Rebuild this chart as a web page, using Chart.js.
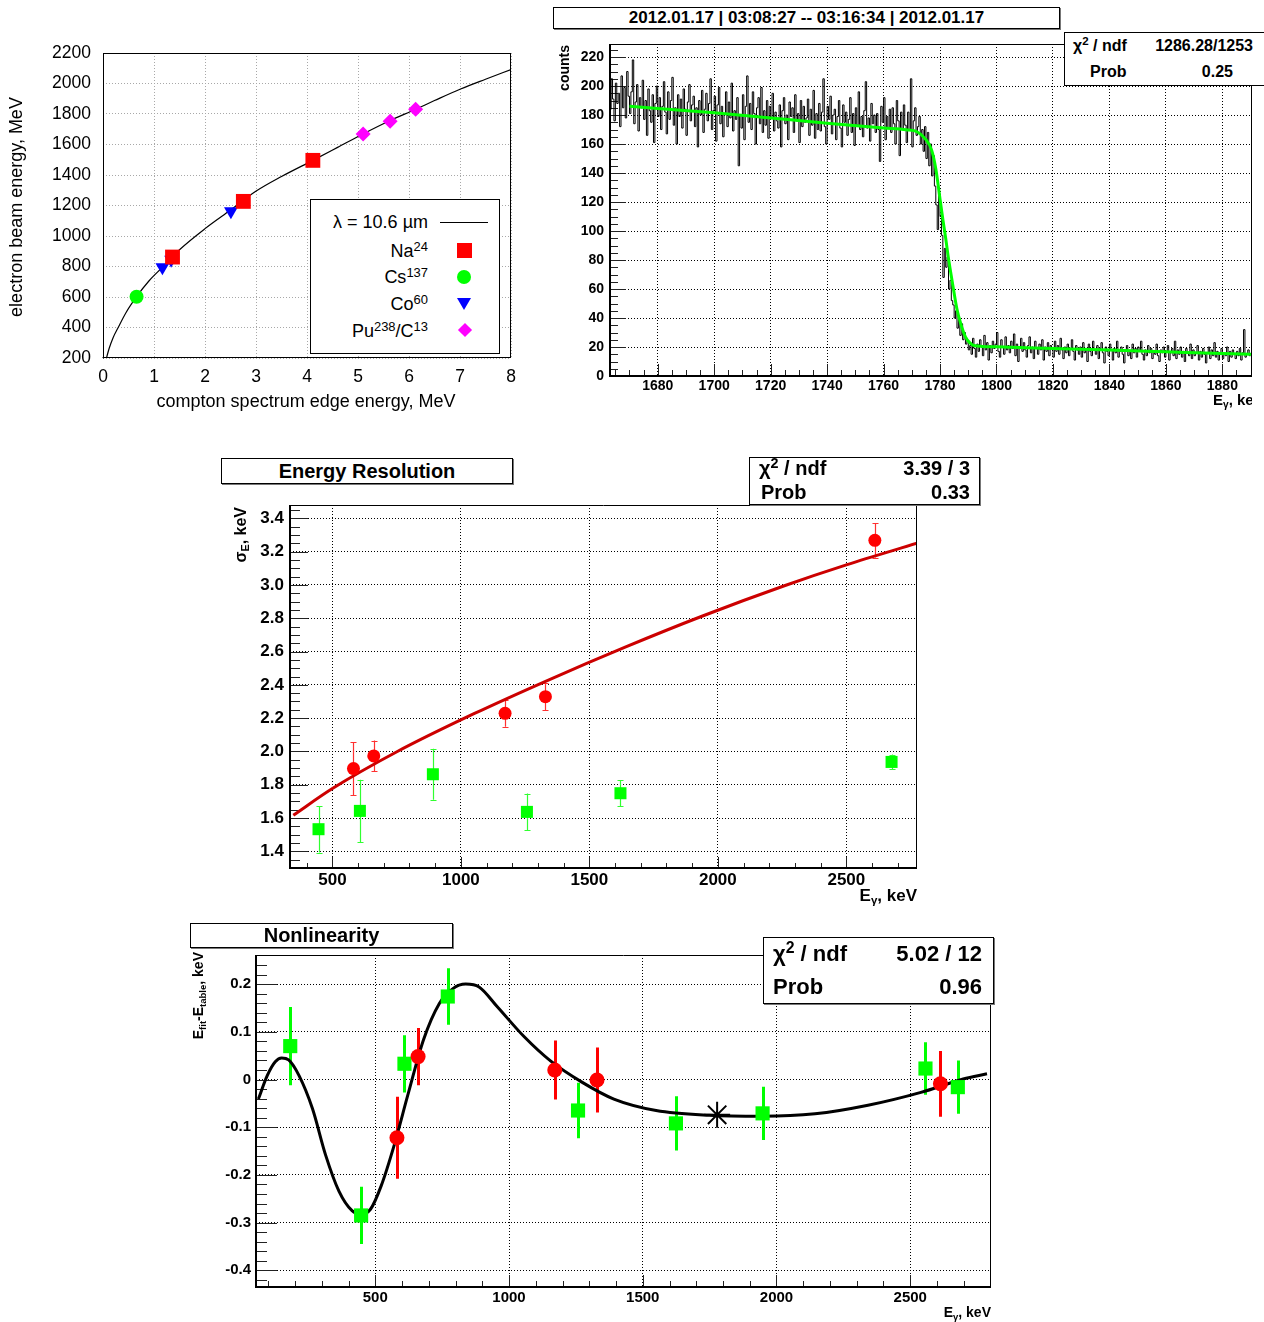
<!DOCTYPE html>
<html>
<head>
<meta charset="utf-8">
<script src="https://cdn.jsdelivr.net/npm/chart.js@4/dist/chart.umd.min.js"></script>
<style>
  html, body { margin: 0; padding: 0; }
  body { width: 1264px; height: 1322px; overflow: hidden; background: #fff; position: relative;
         font-family: "Liberation Sans", Arial, Helvetica, sans-serif; color: #000; }
  canvas { position: absolute; }
  .box { position: absolute; border: 1px solid #000; background: #fff; box-sizing: border-box; }
  .shadow { box-shadow: 1px 1px 0 #777; }
  .t { position: absolute; white-space: nowrap; line-height: 1.15; }
  .b { font-weight: bold; }
  .rot { transform-origin: 0 0; transform: rotate(-90deg); }
  .sup { font-size: 0.72em; position: relative; top: -0.5em; }
  .sub { font-size: 0.68em; position: relative; top: 0.3em; }
</style>
</head>
<body>

<!-- panel 1: compton edge vs beam energy -->
<canvas id="c1" width="530" height="390" style="left:0;top:40px"></canvas>
<div class="t rot" style="left:6px;top:357px;width:300px;text-align:center;font-size:18px">electron beam energy, MeV</div>
<div class="t" style="left:106px;top:391px;width:400px;text-align:center;font-size:18px">compton spectrum edge energy, MeV</div>
<div class="box" style="left:310px;top:199px;width:190px;height:155px"></div>
<div class="t" style="right:836px;top:212px;font-size:18px">λ = 10.6 µm</div>
<div style="position:absolute;left:440px;top:222px;width:48px;height:1px;background:#000"></div>
<div class="t" style="right:836px;top:241px;font-size:18px">Na<span class="sup">24</span></div>
<div style="position:absolute;left:457px;top:243px;width:15px;height:15px;background:#ff0000"></div>
<div class="t" style="right:836px;top:267px;font-size:18px">Cs<span class="sup">137</span></div>
<div style="position:absolute;left:457px;top:270px;width:14px;height:14px;border-radius:50%;background:#00ff00"></div>
<div class="t" style="right:836px;top:294px;font-size:18px">Co<span class="sup">60</span></div>
<div style="position:absolute;left:457px;top:298px;width:0;height:0;border-left:7px solid transparent;border-right:7px solid transparent;border-top:12px solid #0000ff"></div>
<div class="t" style="right:836px;top:321px;font-size:18px">Pu<span class="sup">238</span>/C<span class="sup">13</span></div>
<div style="position:absolute;left:460px;top:325px;width:10px;height:10px;background:#ff00ff;transform:rotate(45deg)"></div>

<!-- panel 2: spectrum edge -->
<canvas id="c2" width="704" height="380" style="left:560px;top:30px"></canvas>
<div class="box shadow b" style="left:553px;top:7px;width:507px;height:22px;display:flex;align-items:center;justify-content:center;font-size:17px">2012.01.17 | 03:08:27 -- 03:16:34 | 2012.01.17</div>
<div class="box" style="left:1064px;top:32px;width:220px;height:54px"></div>
<div class="t b" style="left:1073px;top:37px;font-size:16px">χ<span class="sup">2</span> / ndf</div>
<div class="t b" style="right:11px;top:37px;font-size:16px">1286.28/1253</div>
<div class="t b" style="left:1090px;top:63px;font-size:16px">Prob</div>
<div class="t b" style="right:31px;top:63px;font-size:16px">0.25</div>
<div class="t b rot" style="left:556px;top:105px;width:60px;text-align:right;font-size:14px">counts</div>
<div style="position:absolute;left:1213px;top:388px;width:39px;height:24px;overflow:hidden">
  <div class="t b" style="left:0;top:3px;font-size:15px">E<span class="sub">γ</span>, keV</div>
</div>

<!-- panel 3: energy resolution -->
<canvas id="c3" width="720" height="415" style="left:220px;top:495px"></canvas>
<div class="box shadow b" style="left:221px;top:458px;width:292px;height:26px;display:flex;align-items:center;justify-content:center;font-size:20px">Energy Resolution</div>
<div class="box shadow" style="left:749px;top:457px;width:231px;height:48px"></div>
<div class="t b" style="left:759px;top:457px;font-size:20px">χ<span class="sup">2</span> / ndf</div>
<div class="t b" style="right:294px;top:457px;font-size:20px">3.39 / 3</div>
<div class="t b" style="left:761px;top:481px;font-size:20px">Prob</div>
<div class="t b" style="right:294px;top:481px;font-size:20px">0.33</div>
<div class="t b rot" style="left:232px;top:587px;width:80px;text-align:right;font-size:16px">σ<span class="sub">E</span>, keV</div>
<div class="t b" style="right:347px;top:886px;font-size:17px">E<span class="sub">γ</span>, keV</div>

<!-- panel 4: nonlinearity -->
<canvas id="c4" width="820" height="382" style="left:190px;top:940px"></canvas>
<div class="box shadow b" style="left:190px;top:923px;width:263px;height:25px;display:flex;align-items:center;justify-content:center;font-size:20px">Nonlinearity</div>
<div class="box shadow" style="left:763px;top:937px;width:231px;height:67px"></div>
<div class="t b" style="left:773px;top:941px;font-size:22px">χ<span class="sup">2</span> / ndf</div>
<div class="t b" style="right:282px;top:941px;font-size:22px">5.02 / 12</div>
<div class="t b" style="left:773px;top:974px;font-size:22px">Prob</div>
<div class="t b" style="right:282px;top:974px;font-size:22px">0.96</div>
<div class="t b rot" style="left:190px;top:1062px;width:110px;text-align:right;font-size:14px">E<span class="sub">fit</span>-E<span class="sub">table</span>, keV</div>
<div class="t b" style="right:273px;top:1304px;font-size:14px">E<span class="sub">γ</span>, keV</div>

<script>
// ---------- panel 1: beam energy vs compton edge ----------
var naEdge = [1.363, 2.752, 4.115];
var naBeam = [862, 1227, 1496];
var csEdge = [0.658];
var csBeam = [602];
var coEdge = [1.165, 1.336, 2.508];
var coBeam = [795, 845, 1162];
var puEdge = [5.10, 5.63, 6.13];
var puBeam = [1669, 1752, 1831];
var lambdaEdge = [0.068, 0.12, 0.2, 0.29, 0.45, 0.658, 0.9, 1.165, 1.5, 2.008, 2.5, 2.996, 3.5, 4.115, 4.6, 5.1, 5.6, 6.13, 6.5, 7.01, 7.5, 8.0];
var lambdaBeam = [200, 262, 335, 395, 497, 602, 705, 795, 910, 1050, 1170, 1293, 1390, 1496, 1581, 1669, 1752, 1831, 1888, 1964, 2028, 2091];
var edgeTicks = [0, 1, 2, 3, 4, 5, 6, 7, 8];
var edgeLabels = ['0', '1', '2', '3', '4', '5', '6', '7', '8'];
var beamTicks = [200, 400, 600, 800, 1000, 1200, 1400, 1600, 1800, 2000, 2200];
var beamLabels = ['200', '400', '600', '800', '1000', '1200', '1400', '1600', '1800', '2000', '2200'];

// ---------- panel 2: measured spectrum near the edge ----------
var histStart = 1663;
var histBin = 0.5;
var histCounts = [
  198, 184, 205, 191, 176, 202, 188, 195, 172, 207,
  185, 199, 178, 210, 193, 181, 196, 218, 174, 189,
  201, 169, 192, 185, 204, 177, 190, 166, 198, 183,
  175, 194, 161, 188, 200, 179, 192, 170, 186, 203,
  182, 167, 196, 177, 190, 206, 173, 185, 160, 194,
  179, 191, 171, 198, 184, 166, 189, 201, 176, 187,
  193, 172, 185, 158, 190, 180, 197, 168, 184, 195,
  176, 188, 205, 170, 183, 193, 162, 187, 199, 174,
  186, 165, 181, 196, 172, 189, 178, 202, 169, 183,
  177, 192, 145, 180, 171, 194, 163, 186, 207, 175,
  188, 170, 196, 181, 160, 185, 192, 174, 199, 168,
  183, 173, 190, 164, 186, 178, 195, 169, 182, 176,
  171, 187, 158, 183, 192, 174, 180, 163, 189, 179,
  185, 168, 194, 176, 181, 161, 190, 172, 186, 175,
  178, 191, 166, 184, 173, 197, 164, 181, 170, 188,
  169, 182, 205, 172, 160, 186, 177, 193, 167, 180,
  184, 163, 179, 190, 171, 158, 187, 175, 182, 166,
  177, 192, 168, 181, 159, 185, 173, 196, 170, 179,
  165, 183, 203, 171, 178, 162, 188, 174, 180, 168,
  181, 170, 148, 186, 175, 192, 163, 179, 171, 184,
  168, 185, 174, 160, 190, 176, 152, 182, 170, 187,
  173, 161, 182, 170, 205, 158, 176, 185, 166, 172,
  179, 160, 170, 155,
  172, 150, 168, 145, 160, 138, 152, 131, 118, 101,
  126, 110, 97, 68, 88, 75, 82, 60, 66, 52,
  49, 40, 45, 33, 39, 28, 36, 25, 30, 22,
  24, 18, 21, 15, 26, 19, 13, 22, 17, 25,
  20, 14, 28, 18, 23, 11, 21, 16, 24, 19,
  22, 30, 17, 13, 25, 20, 15, 27, 18, 21,
  16, 24, 19, 29, 14, 22, 10, 20, 26, 17,
  23, 18, 13, 21, 27, 16, 20, 12, 24, 19,
  15, 22, 18, 25, 11, 20, 17, 23, 14, 21,
  19, 13, 24, 17, 21, 15, 26, 18, 12, 20,
  16, 22, 14, 19, 25, 17, 11, 21, 18, 15,
  20, 13, 23, 16, 19, 10, 22, 17, 14, 24,
  18, 15, 21, 12, 19, 23, 16, 9, 20, 17,
  14, 22, 18, 11, 19, 16, 24, 13, 17, 20,
  15, 9, 18, 21, 14, 17, 12, 22, 16, 19,
  13, 20, 17, 24, 15, 11, 18, 14, 21, 16,
  19, 12, 17, 15, 22, 14, 10, 18, 16, 20,
  13, 17, 21, 11, 16, 19, 14, 24, 12, 18,
  15, 20, 13, 17, 10, 19, 16, 14, 22, 12,
  18, 14, 16, 21, 11, 17, 13, 19, 15, 9,
  16, 20, 12, 18, 14, 23, 13, 17, 11, 15,
  19, 12, 16, 14, 20, 10, 17, 13, 18, 15,
  12, 17, 14, 19, 11, 16, 32, 13, 15, 18,
  14
];
var edgeFitE = [1670, 1700, 1720, 1740, 1760, 1768, 1772, 1775, 1777, 1778.5, 1780, 1781, 1782, 1783, 1784.5, 1786, 1787.5, 1789, 1790.5, 1792, 1795, 1800, 1820, 1840, 1860, 1880, 1890.5];
var edgeFitN = [186, 181.6, 178, 174.3, 171, 169.8, 168.3, 163, 156, 143, 122, 108, 95, 81, 63, 46, 35, 27, 23, 21, 20.4, 20.1, 19, 17.9, 16.7, 15.5, 15];
var specTicks = [1680, 1700, 1720, 1740, 1760, 1780, 1800, 1820, 1840, 1860, 1880];
var specLabels = ['1680', '1700', '1720', '1740', '1760', '1780', '1800', '1820', '1840', '1860', '1880'];
var countTicks = [0, 20, 40, 60, 80, 100, 120, 140, 160, 180, 200, 220];
var countLabels = ['0', '20', '40', '60', '80', '100', '120', '140', '160', '180', '200', '220'];

// ---------- panel 3: energy resolution ----------
var resRedE = [582, 661, 1172, 1329, 2611];
var resRedSigma = [1.897, 1.973, 2.229, 2.329, 3.268];
var resRedErr = [0.16, 0.092, 0.081, 0.081, 0.104];
var resGreenE = [446, 607, 891, 1257, 1621, 2676];
var resGreenSigma = [1.533, 1.643, 1.863, 1.637, 1.749, 1.937];
var resGreenErr = [0.14, 0.187, 0.153, 0.11, 0.078, 0.044];
var resFitE = [348, 500, 751, 1053, 1345, 1637, 1938, 2259, 2500, 2775];
var resFitSigma = [1.617, 1.777, 1.998, 2.228, 2.432, 2.625, 2.812, 2.995, 3.12, 3.25];
var resXTicks = [500, 1000, 1500, 2000, 2500];
var resXLabels = ['500', '1000', '1500', '2000', '2500'];
var resYTicks = [1.4, 1.6, 1.8, 2.0, 2.2, 2.4, 2.6, 2.8, 3.0, 3.2, 3.4];
var resYLabels = ['1.4', '1.6', '1.8', '2.0', '2.2', '2.4', '2.6', '2.8', '3.0', '3.2', '3.4'];

// ---------- panel 4: nonlinearity ----------
var nlGreenE = [182, 447, 609, 771, 1258, 1624, 1948, 2557, 2678];
var nlGreenD = [0.070, -0.285, 0.033, 0.174, -0.065, -0.092, -0.071, 0.023, -0.016];
var nlGreenErr = [0.082, 0.06, 0.06, 0.059, 0.058, 0.057, 0.056, 0.055, 0.056];
var nlRedE = [581, 660, 1171, 1329, 2613];
var nlRedD = [-0.122, 0.048, 0.020, -0.001, -0.009];
var nlRedErr = [0.086, 0.06, 0.062, 0.068, 0.069];
var nlStarE = [1778];
var nlStarD = [-0.074];
var nlFitE = [63, 96, 126, 150, 176, 215, 265, 314, 364, 413, 447, 482, 522, 571, 621, 680, 739, 789, 838, 888, 957, 1056, 1155, 1274, 1392, 1550, 1748, 1946, 2144, 2342, 2540, 2698, 2787];
var nlFitD = [-0.041, 0.008, 0.037, 0.045, 0.041, 0.008, -0.061, -0.158, -0.234, -0.275, -0.282, -0.272, -0.223, -0.137, -0.034, 0.083, 0.159, 0.19, 0.2, 0.194, 0.152, 0.090, 0.039, -0.006, -0.041, -0.065, -0.075, -0.077, -0.072, -0.054, -0.027, 0.001, 0.012];
var nlXTicks = [500, 1000, 1500, 2000, 2500];
var nlXLabels = ['500', '1000', '1500', '2000', '2500'];
var nlYTicks = [-0.4, -0.3, -0.2, -0.1, 0, 0.1, 0.2];
var nlYLabels = ['-0.4', '-0.3', '-0.2', '-0.1', '0', '0.1', '0.2'];

// ---------- helpers ----------
var pts = function(xs, ys) {
    return xs.map(function(x, i) { return {x: x, y: ys[i]}; });
};
var histPoints = function() {
    return histCounts.map(function(n, i) { return {x: histStart + i * histBin, y: n}; });
};

var axis = function(min, max, ticks, labels, fit, font, pad, gridColor) {
    return {
        type: 'linear', min: min, max: max,
        afterBuildTicks: function(s) { s.ticks = ticks.map(function(v) { return {value: v}; }); },
        afterFit: function(s) {
            if (s.isHorizontal()) s.height = fit; else s.width = fit;
            // plot area is fixed by layout padding only
            s.paddingTop = 0; s.paddingBottom = 0; s.paddingLeft = 0; s.paddingRight = 0;
        },
        ticks: { callback: function(v, i) { return labels[i]; }, font: font, padding: pad,
                 color: '#000', maxRotation: 0, autoSkip: false },
        grid: { color: gridColor, lineWidth: 1, drawTicks: false },
        border: { display: false, dash: [1, 2] }
    };
};

// frame round the plot area plus ROOT style inner ticks
var plotFrame = {
    id: 'plotFrame',
    beforeDatasetsDraw: function(chart, args, o) {
        if (!o.minorX) return;
        var ctx = chart.ctx, a = chart.chartArea, xs = chart.scales.x, ys = chart.scales.y;
        ctx.save();
        ctx.lineWidth = 1;
        ctx.strokeStyle = '#222';
        ctx.beginPath();
        var k, v, p, major;
        for (k = Math.ceil(xs.min / o.minorX); k * o.minorX <= xs.max; k++) {
            v = k * o.minorX;
            major = Math.abs(v / o.majorX - Math.round(v / o.majorX)) < 1e-6;
            p = Math.round(xs.getPixelForValue(v)) + 0.5;
            ctx.moveTo(p, a.bottom);
            ctx.lineTo(p, a.bottom - (major ? o.xMajor : o.xMinor));
        }
        for (k = Math.ceil(ys.min / o.minorY - 1e-9); k * o.minorY <= ys.max + 1e-9; k++) {
            v = k * o.minorY;
            major = Math.abs(v / o.majorY - Math.round(v / o.majorY)) < 1e-6;
            p = Math.round(ys.getPixelForValue(v)) + 0.5;
            ctx.moveTo(a.left, p);
            ctx.lineTo(a.left + (major ? o.yMajor : o.yMinor), p);
        }
        ctx.stroke();
        ctx.restore();
    },
    afterDatasetsDraw: function(chart, args, o) {
        var ctx = chart.ctx, a = chart.chartArea;
        var w = o.axisWidth || 1;
        ctx.save();
        ctx.strokeStyle = '#000';
        ctx.lineWidth = 1;
        ctx.beginPath();
        ctx.moveTo(a.left, a.top + 0.5); ctx.lineTo(a.right, a.top + 0.5);
        ctx.moveTo(a.right - 0.5, a.top); ctx.lineTo(a.right - 0.5, a.bottom);
        ctx.stroke();
        ctx.lineWidth = w;
        ctx.beginPath();
        var off = w % 2 ? 0.5 : 0;
        ctx.moveTo(a.left + off, a.top); ctx.lineTo(a.left + off, a.bottom + w / 2);
        ctx.moveTo(a.left - w / 2, a.bottom - off); ctx.lineTo(a.right, a.bottom - off);
        ctx.stroke();
        ctx.restore();
    }
};

// vertical error bars from dataset.errY
var errorBars = {
    id: 'errorBars',
    beforeDatasetsDraw: function(chart) {
        var ctx = chart.ctx, xs = chart.scales.x, ys = chart.scales.y;
        chart.data.datasets.forEach(function(ds) {
            if (!ds.errY) return;
            ctx.save();
            ctx.strokeStyle = ds.errColor;
            ctx.lineWidth = ds.errWidth;
            ctx.beginPath();
            ds.data.forEach(function(p, j) {
                var x = Math.round(xs.getPixelForValue(p.x)) + 0.5;
                var y1 = ys.getPixelForValue(p.y + ds.errY[j]);
                var y2 = ys.getPixelForValue(p.y - ds.errY[j]);
                ctx.moveTo(x, y1); ctx.lineTo(x, y2);
                if (ds.errCap) {
                    ctx.moveTo(x - ds.errCap, Math.round(y1) + 0.5); ctx.lineTo(x + ds.errCap, Math.round(y1) + 0.5);
                    ctx.moveTo(x - ds.errCap, Math.round(y2) + 0.5); ctx.lineTo(x + ds.errCap, Math.round(y2) + 0.5);
                }
            });
            ctx.stroke();
            ctx.restore();
        });
    }
};

Chart.register(plotFrame, errorBars);
Chart.defaults.font.family = '"Liberation Sans", Arial, Helvetica, sans-serif';
Chart.defaults.color = '#000';

var baseOptions = function(padding, xAxis, yAxis, frame) {
    return {
        responsive: false,
        animation: false,
        layout: { padding: padding },
        plugins: { legend: { display: false }, tooltip: { enabled: false }, plotFrame: frame },
        scales: { x: xAxis, y: yAxis }
    };
};

var marker = function(data, style, radius, color, extra) {
    var ds = { data: data, pointStyle: style, pointRadius: radius, pointBackgroundColor: color,
               pointBorderColor: color, pointBorderWidth: 0, showLine: false };
    for (var k in extra) ds[k] = extra[k];
    return ds;
};

var tickFont1 = { size: 17.5 };

window.onload = function() {

    new Chart(document.getElementById('c1').getContext('2d'), {
        type: 'scatter',
        data: { datasets: [
            marker(pts(naEdge, naBeam), 'rect', 10.5, '#ff0000'),
            marker(pts(csEdge, csBeam), 'circle', 7, '#00ff00'),
            marker(pts(coEdge, coBeam), 'triangle', 8, '#0000ff', { rotation: 180 }),
            marker(pts(puEdge, puBeam), 'rectRot', 7.5, '#ff00ff'),
            { data: pts(lambdaEdge, lambdaBeam), showLine: true, pointRadius: 0, borderColor: '#000',
              borderWidth: 1.2, cubicInterpolationMode: 'monotone' }
        ]},
        options: baseOptions({ left: 0, top: 13, right: 19, bottom: 0 },
            axis(0, 8, edgeTicks, edgeLabels, 72, tickFont1, 9, '#a8a8a8'),
            axis(200, 2200, beamTicks, beamLabels, 103, tickFont1, 12, '#a8a8a8'),
            { axisWidth: 1 })
    });

    new Chart(document.getElementById('c2').getContext('2d'), {
        type: 'scatter',
        data: { datasets: [
            { data: pts(edgeFitE, edgeFitN), showLine: true, pointRadius: 0, borderColor: '#00ff00',
              borderWidth: 3, cubicInterpolationMode: 'monotone' },
            { data: histPoints(), showLine: true, stepped: 'after', pointRadius: 0, borderColor: '#000',
              borderWidth: 1 }
        ]},
        options: baseOptions({ left: 0, top: 14, right: 12, bottom: 0 },
            axis(1663.1, 1890.5, specTicks, specLabels, 34, { size: 14, weight: 'bold' }, 2, '#000'),
            axis(0, 229, countTicks, countLabels, 50, { size: 14, weight: 'bold' }, 6, '#000'),
            { axisWidth: 2, minorX: 5, majorX: 20, xMajor: 12, xMinor: 6,
              minorY: 5, majorY: 20, yMajor: 16, yMinor: 8 })
    });

    new Chart(document.getElementById('c3').getContext('2d'), {
        type: 'scatter',
        data: { datasets: [
            marker(pts(resRedE, resRedSigma), 'circle', 6.5, '#ff0000',
                   { errY: resRedErr, errColor: '#ff3030', errWidth: 1.2, errCap: 3 }),
            marker(pts(resGreenE, resGreenSigma), 'rect', 8.5, '#00ff00',
                   { errY: resGreenErr, errColor: '#30ff30', errWidth: 1.2, errCap: 3 }),
            { data: pts(resFitE, resFitSigma), showLine: true, pointRadius: 0, borderColor: '#cc0000',
              borderWidth: 3, cubicInterpolationMode: 'monotone' }
        ]},
        options: baseOptions({ left: 0, top: 10, right: 23, bottom: 0 },
            axis(335, 2775, resXTicks, resXLabels, 42, { size: 17, weight: 'bold' }, 2, '#000'),
            axis(1.3, 3.48, resYTicks, resYLabels, 70, { size: 17, weight: 'bold' }, 6, '#000'),
            { axisWidth: 2, minorX: 100, majorX: 500, xMajor: 11, xMinor: 5,
              minorY: 0.05, majorY: 0.2, yMajor: 18, yMinor: 10 })
    });

    new Chart(document.getElementById('c4').getContext('2d'), {
        type: 'scatter',
        data: { datasets: [
            marker(pts(nlStarE, nlStarD), 'star', 13, '#000', { pointBorderWidth: 2 }),
            marker(pts(nlRedE, nlRedD), 'circle', 7.5, '#ff0000',
                   { errY: nlRedErr, errColor: '#ff0000', errWidth: 3 }),
            marker(pts(nlGreenE, nlGreenD), 'rect', 10, '#00ff00',
                   { errY: nlGreenErr, errColor: '#00ff00', errWidth: 3 }),
            { data: pts(nlFitE, nlFitD), showLine: true, pointRadius: 0, borderColor: '#000',
              borderWidth: 3, cubicInterpolationMode: 'monotone' }
        ]},
        options: baseOptions({ left: 0, top: 11, right: 19, bottom: 0 },
            axis(54, 2802, nlXTicks, nlXLabels, 35, { size: 15, weight: 'bold' }, 2, '#000'),
            axis(-0.435, 0.261, nlYTicks, nlYLabels, 66, { size: 15, weight: 'bold' }, 5, '#000'),
            { axisWidth: 2, minorX: 100, majorX: 500, xMajor: 12, xMinor: 6,
              minorY: 0.02, majorY: 0.1, yMajor: 21, yMinor: 11 })
    });
};
</script>
</body>
</html>
